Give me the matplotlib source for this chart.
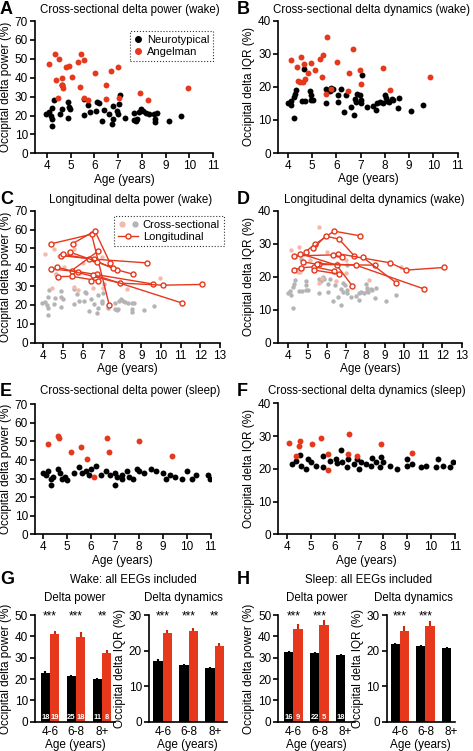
import numpy as np
import matplotlib.pyplot as plt
from matplotlib.lines import Line2D
from matplotlib.legend_handler import HandlerTuple

plt.rcParams['font.family'] = ['Liberation Sans', 'DejaVu Sans']
plt.rcParams['font.size'] = 8

RED = '#e5381d'
PINK = '#f5b8ab'
GREY = '#b4b4b4'

# ---- A: cross-sectional delta power (wake)
a_nt_age = [3.96, 4.10, 4.22, 4.28, 4.18, 4.22, 4.22, 4.55, 4.62, 4.65, 4.88, 4.92, 4.99,
            4.90, 5.55, 5.74, 5.83, 6.08, 6.13, 6.20, 6.33, 6.42, 6.60, 6.75, 6.80, 6.77,
            6.97, 7.00, 7.03, 7.08, 7.28, 7.67, 7.67, 7.76, 7.81, 7.88, 7.97, 8.06, 8.18,
            8.32, 8.51, 8.64, 8.54, 8.54, 9.13, 9.65, 5.56]
a_nt_val = [20.9, 21.6, 24.1, 28.0, 20.0, 18.3, 14.6, 20.6, 23.6, 36.2, 27.4, 24.3, 23.4,
            18.8, 20.4, 25.7, 22.1, 22.3, 27.1, 26.5, 16.9, 23.0, 20.7, 15.6, 18.3, 25.2,
            22.2, 21.0, 26.3, 31.0, 18.5, 17.8, 21.3, 17.2, 18.1, 22.1, 23.2, 22.3, 21.4,
            20.9, 20.9, 21.3, 17.9, 16.5, 17.2, 19.5, 28.5]
a_as_age = [4.11, 4.35, 4.38, 4.45, 4.53, 4.63, 4.63, 4.69, 4.80, 4.94, 5.08, 5.33, 5.39,
            5.45, 5.58, 5.56, 5.75, 6.02, 6.51, 6.51, 6.70, 6.99, 7.05, 7.93, 8.26, 9.96]
a_as_val = [47.1, 52.4, 38.8, 29.0, 49.7, 39.7, 36.0, 34.8, 45.9, 46.4, 40.4, 48.2, 35.1,
            52.5, 49.6, 29.3, 28.1, 42.4, 36.2, 28.8, 43.4, 45.5, 29.0, 32.0, 28.3, 34.4]

# ---- B: cross-sectional delta dynamics (wake)
b_nt_age = [4.00, 4.11, 4.23, 4.14, 4.25, 4.34, 4.28, 4.66, 4.58, 4.69, 4.91, 4.94, 4.94,
            5.03, 5.58, 5.58, 5.72, 5.79, 5.86, 6.07, 6.07, 6.18, 6.31, 6.41, 6.59, 6.73,
            6.75, 6.82, 6.86, 6.96, 7.03, 7.03, 7.07, 7.24, 7.51, 7.65, 7.69, 7.79, 7.93,
            8.02, 8.06, 8.10, 8.16, 8.27, 8.34, 8.52, 8.57, 9.07, 9.58]
b_nt_val = [15.0, 15.7, 17.0, 14.5, 10.5, 19.1, 17.9, 25.4, 15.7, 15.7, 18.8, 17.5, 16.0,
            16.0, 15.0, 19.4, 18.8, 19.8, 19.4, 17.7, 15.3, 19.4, 12.5, 17.5, 14.0, 11.5,
            16.3, 15.3, 18.0, 17.5, 16.0, 15.0, 23.6, 14.0, 14.3, 13.0, 15.0, 15.3, 15.0,
            17.7, 16.7, 15.7, 15.3, 16.3, 16.0, 13.5, 16.5, 12.7, 14.5]
b_as_age = [4.14, 4.37, 4.41, 4.55, 4.48, 4.62, 4.66, 4.69, 4.83, 4.96, 5.10, 5.34, 5.40,
            5.46, 5.60, 5.58, 5.76, 6.01, 6.52, 6.49, 6.69, 6.98, 7.02, 7.90, 8.21, 9.87]
b_as_val = [28.1, 25.9, 21.9, 28.9, 21.5, 21.5, 26.9, 22.3, 24.3, 27.3, 25.1, 28.3, 22.9,
            29.5, 35.2, 18.0, 19.5, 27.6, 24.1, 18.8, 31.3, 25.0, 21.0, 25.6, 19.1, 22.9]

# ---- C: longitudinal delta power (wake), one list per child
c_long_age = [[4.42, 6.46, 7.36], [5.49, 6.63, 7.40], [4.88, 6.60, 9.30],
              [5.02, 6.34, 7.77, 8.55], [5.36, 6.75, 7.57], [5.44, 6.80],
              [4.42, 5.78, 9.60], [4.71, 7.90, 10.11, 12.06], [4.76, 5.44, 6.77],
              [6.41, 6.72], [6.55, 11.05]]
c_long_val = [[52.5, 57.5, 20.0], [52.5, 59.3, 42.3], [46.2, 44.3, 42.3],
              [46.8, 44.5, 38.6, 36.4], [48.0, 43.0, 39.5], [38.2, 48.6],
              [39.1, 37.7, 31.1], [40.0, 31.6, 30.5, 30.9], [35.0, 35.2, 32.9],
              [32.9, 36.4], [36.1, 21.1]]

# ---- D: longitudinal delta dynamics (wake)
d_long_age = [[4.90, 5.38, 6.37, 7.72], [5.30, 5.94, 6.63, 7.41], [6.56, 9.28, 10.11, 12.10],
              [4.31, 6.30, 6.77], [4.61, 6.51, 7.32], [4.74, 5.59, 8.50],
              [4.31, 4.64, 5.35, 6.39], [5.35, 6.63], [7.86, 9.59], [5.50, 7.51, 11.04]]
d_long_val = [[27.6, 29.8, 33.8, 32.4], [28.6, 32.3, 31.4, 26.4], [27.0, 24.2, 22.0, 22.8],
              [26.3, 26.6, 26.0], [27.0, 23.5, 17.2], [24.5, 23.7, 23.5],
              [22.0, 22.7, 23.0, 21.7], [22.0, 20.8], [25.9, 18.2], [24.0, 23.5, 16.3]]

# ---- E: cross-sectional delta power (sleep)
e_nt_age = [4.0, 4.1, 4.2, 4.31, 4.3, 4.4, 4.6, 4.7, 4.8, 4.9, 5.0, 5.3, 5.5, 5.6, 5.8, 5.9,
            6.0, 6.2, 6.4, 6.6, 6.8, 6.99, 7.0, 7.1, 7.28, 7.3, 7.5, 7.6, 7.74, 7.9, 8.0,
            8.2, 8.5, 8.7, 9.0, 9.13, 9.3, 9.5, 9.79, 10.0, 10.21, 10.4, 10.98, 10.9]
e_nt_val = [33, 32, 34, 26.5, 30, 31, 35, 33, 30, 31, 29.5, 33, 36, 33, 34, 32,
            35, 37, 32, 34, 32, 26.8, 33, 31, 30, 32, 34, 31, 30, 35, 34,
            33, 35, 34, 33, 30, 32, 31, 30, 34, 30, 32, 30, 32]
e_as_age = [4.21, 4.63, 4.67, 5.16, 5.56, 5.82, 6.10, 6.65, 6.74, 8.02, 9.37]
e_as_val = [48.6, 53.1, 52.0, 44.5, 47.2, 40.5, 31.0, 52.0, 44.5, 50.1, 42.2]

# ---- F: cross-sectional delta dynamics (sleep)
f_nt_age = [4.57, 4.87, 5.52, 6.04, 6.26, 6.56, 6.91, 7.53, 7.92, 8.99, 10.31,
            4.2, 4.4, 4.6, 4.8, 5.0, 5.2, 5.5, 5.8, 6.1, 6.3, 6.5, 6.8, 7.0, 7.1, 7.3,
            7.5, 7.7, 7.9, 8.0, 8.3, 8.6, 9.0, 9.2, 9.6, 9.8, 10.2, 10.5, 10.8, 10.9]
f_nt_val = [24.2, 22.9, 23.9, 22.9, 25.8, 22.9, 22.9, 23.2, 23.7, 22.9, 22.9,
            21.5, 22.5, 21.0, 20.0, 22.0, 21.0, 20.5, 22.5, 21.8, 22.0, 20.5, 21.5, 20.0,
            22.0, 21.5, 21.0, 22.0, 20.5, 22.0, 21.0, 20.0, 21.0, 21.5, 20.5, 21.0, 20.5,
            21.0, 20.5, 22.0]
f_as_age = [4.10, 4.37, 4.55, 4.52, 5.04, 5.43, 5.70, 6.53, 6.60, 6.94, 7.91, 9.23, 5.70]
f_as_val = [28.0, 23.9, 28.5, 27.1, 27.6, 29.4, 24.5, 24.6, 30.6, 24.0, 27.6, 24.8, 19.6]

# ---- G / H: group means
groups = ['4-6', '6-8', '8+']
g_pow_nt = [23.0, 21.5, 20.0]; g_pow_nt_err = [0.6, 0.5, 0.7]
g_pow_as = [41.0, 39.8, 32.2]; g_pow_as_err = [1.6, 2.0, 1.5]
g_iqr_nt = [17.0, 16.0, 15.2]; g_iqr_nt_err = [0.6, 0.3, 0.3]
g_iqr_as = [25.0, 25.6, 21.2]; g_iqr_as_err = [0.7, 0.8, 0.8]
g_n_nt = ['18', '25', '11']; g_n_as = ['19', '18', '8']
g_stars = ['***', '***', '**']
h_pow_nt = [32.7, 32.3, 31.2]; h_pow_nt_err = [0.5, 0.4, 0.3]
h_pow_as = [43.3, 45.2]; h_pow_as_err = [2.3, 2.3]
h_iqr_nt = [21.8, 21.2, 20.8]; h_iqr_nt_err = [0.4, 0.4, 0.3]
h_iqr_as = [25.5, 27.0]; h_iqr_as_err = [1.3, 1.3]
h_n_nt = ['16', '22', '18']; h_n_as = ['9', '5']
h_stars = ['***', '***']

W, H = 473, 751
fig = plt.figure(figsize=(W / 100, H / 100), dpi=100)


def add_ax(l, t, r, b):
    ax = fig.add_axes([l / W, 1 - b / H, (r - l) / W, (b - t) / H])
    ax.spines[['top', 'right']].set_visible(False)
    ax.spines[['left', 'bottom']].set_linewidth(1.2)
    ax.tick_params(width=1.2, length=3.5, labelsize=8.5, pad=1.5)
    return ax


def ftext(x, y, s, **kw):
    fig.text(x / W, 1 - y / H, s, va='center', **kw)


def scatter_panel(ax, xlim, ylim, nt, asx, dot=18):
    ax.scatter(nt[0], nt[1], s=dot, color='black', lw=0, zorder=3)
    ax.scatter(asx[0], asx[1], s=dot, color=RED, lw=0, zorder=3)
    ax.set_xlim(*xlim)
    ax.set_ylim(*ylim)
    ax.set_xlabel('Age (years)', fontsize=8.5, labelpad=1)


# A
axA = add_ax(35, 21, 213, 153.3)
scatter_panel(axA, (3.5, 11), (0, 70), (a_nt_age, a_nt_val), (a_as_age, a_as_val))
axA.set_xticks(range(4, 12))
axA.set_yticks(range(0, 71, 10))
axA.set_ylabel('Occipital delta power (%)', fontsize=8.5, labelpad=2)
leg = axA.legend([Line2D([], [], marker='o', ls='', color='black', ms=4),
                  Line2D([], [], marker='o', ls='', color=RED, ms=4)],
                 ['Neurotypical', 'Angelman'], loc='upper right',
                 bbox_to_anchor=(1.0, 0.927), borderaxespad=0, fontsize=8,
                 handlelength=0.8, handletextpad=0.4, borderpad=0.35,
                 labelspacing=0.2, fancybox=False, edgecolor='black')
leg.get_frame().set_linestyle(':')
leg.get_frame().set_linewidth(0.8)

# B
axB = add_ax(278.3, 20.7, 457.7, 153.1)
scatter_panel(axB, (3.6, 11), (0, 40), (b_nt_age, b_nt_val), (b_as_age, b_as_val))
axB.set_xticks(range(4, 12))
axB.set_yticks(range(0, 41, 10))
axB.set_ylabel('Occipital delta IQR (%)', fontsize=8.5, labelpad=2)


def long_panel(ax, nt, asx, ages, vals):
    ax.scatter(nt[0], nt[1], s=10, color=GREY, lw=0, zorder=2)
    ax.scatter(asx[0], asx[1], s=10, color=PINK, lw=0, zorder=2)
    for xa, ya in zip(ages, vals):
        ax.plot(xa, ya, color=RED, lw=1.0, marker='o', ms=3.6, mfc='white',
                mec=RED, mew=1.0, zorder=3)
    ax.set_xticks(range(4, 14))
    ax.set_xlabel('Age (years)', fontsize=8.5, labelpad=1)


# C
axC = add_ax(35, 210.7, 220, 342.7)
long_panel(axC, (a_nt_age, a_nt_val), (a_as_age, a_as_val), c_long_age, c_long_val)
axC.set_xlim(3.58, 13)
axC.set_ylim(0, 70)
axC.set_yticks(range(0, 71, 10))
axC.set_ylabel('Occipital delta power (%)', fontsize=8.5, labelpad=2)
legC = axC.legend([(Line2D([], [], marker='o', ls='', color=PINK, ms=3.5),
                    Line2D([], [], marker='o', ls='', color=GREY, ms=3.5)),
                   Line2D([], [], color=RED, lw=1, marker='o', ms=3.6, mfc='white')],
                  ['Cross-sectional', 'Longitudinal'], loc='upper right',
                  bbox_to_anchor=(1.02, 0.96), borderaxespad=0, fontsize=8,
                  handlelength=1.8, handletextpad=0.4, borderpad=0.35,
                  labelspacing=0.2, fancybox=False, edgecolor='black',
                  handler_map={tuple: HandlerTuple(ndivide=None, pad=0.6)})
legC.get_frame().set_linestyle(':')
legC.get_frame().set_linewidth(0.8)

# D
axD = add_ax(278.3, 210.7, 461.7, 342.7)
long_panel(axD, (b_nt_age, b_nt_val), (b_as_age, b_as_val), d_long_age, d_long_val)
axD.set_xlim(3.48, 13)
axD.set_ylim(0, 40)
axD.set_yticks(range(0, 41, 10))
axD.set_ylabel('Occipital delta IQR (%)', fontsize=8.5, labelpad=2)

# E
axE = add_ax(35, 404.3, 210.7, 534.3)
scatter_panel(axE, (3.65, 11), (0, 70), (e_nt_age, e_nt_val), (e_as_age, e_as_val))
axE.set_xticks(range(4, 12))
axE.set_yticks(range(0, 71, 10))
axE.set_ylabel('Occipital delta power (%)', fontsize=8.5, labelpad=2)

# F
axF = add_ax(278.3, 403.3, 455, 534.3)
scatter_panel(axF, (3.65, 11), (0, 40), (f_nt_age, f_nt_val), (f_as_age, f_as_val))
axF.set_xticks(range(4, 12))
axF.set_yticks(range(0, 41, 10))
axF.set_ylabel('Occipital delta IQR (%)', fontsize=8.5, labelpad=2)


def bar_panel(ax, nt, nt_err, asv, as_err, n_nt, n_as, stars, ymax, xlim, ylabel):
    x = np.arange(len(groups))
    xa = np.arange(len(asv))
    ax.bar(x - 0.18, nt, width=0.36, color='black', zorder=2)
    ax.errorbar(x - 0.18, nt, yerr=[np.zeros(len(nt)), nt_err], fmt='none',
                ecolor='black', elinewidth=1.5, capsize=0, zorder=1)
    ax.bar(xa + 0.18, asv, width=0.36, color=RED, zorder=2)
    ax.errorbar(xa + 0.18, asv, yerr=[np.zeros(len(asv)), as_err], fmt='none',
                ecolor='#c8280f', elinewidth=1.5, capsize=0, zorder=1)
    for xi, s in zip(x, n_nt):
        ax.text(xi - 0.18, ymax * 0.01, s, color='white', ha='center', va='bottom',
                fontsize=5.5, fontweight='bold', zorder=4)
    for xi, s in zip(xa, n_as):
        ax.text(xi + 0.18, ymax * 0.01, s, color='white', ha='center', va='bottom',
                fontsize=5.5, fontweight='bold', zorder=4)
    for xi, s in zip(x, stars):
        ax.text(xi, ymax * 0.985, s, ha='center', va='center', fontsize=8.5)
    ax.set_xlim(*xlim)
    ax.set_ylim(0, ymax)
    ax.set_yticks(range(0, ymax + 1, 10))
    ax.set_xticks(x)
    ax.set_xticklabels(groups)
    ax.tick_params(axis='x', length=0, pad=3)
    ax.set_xlabel('Age (years)', fontsize=8.5, labelpad=1)
    ax.set_ylabel(ylabel, fontsize=8.5, labelpad=2)


axG1 = add_ax(35, 615, 115, 721.7)
bar_panel(axG1, g_pow_nt, g_pow_nt_err, g_pow_as, g_pow_as_err, g_n_nt, g_n_as,
          g_stars, 50, (-0.58, 2.5), 'Occipital delta power (%)')
axG2 = add_ax(149, 615, 226.7, 721.7)
bar_panel(axG2, g_iqr_nt, g_iqr_nt_err, g_iqr_as, g_iqr_as_err, [], [],
          g_stars, 30, (-0.53, 2.46), 'Occipital delta IQR (%)')
axH1 = add_ax(278.3, 615, 355, 721.7)
bar_panel(axH1, h_pow_nt, h_pow_nt_err, h_pow_as, h_pow_as_err, h_n_nt, h_n_as,
          h_stars, 50, (-0.58, 2.37), 'Occipital delta power (%)')
axH2 = add_ax(386.7, 615, 455, 721.7)
bar_panel(axH2, h_iqr_nt, h_iqr_nt_err, h_iqr_as, h_iqr_as_err, [], [],
          h_stars, 30, (-0.51, 2.15), 'Occipital delta IQR (%)')

# titles and panel letters
tkw = dict(ha='center', fontsize=8.3)
ftext(130, 9.5, 'Cross-sectional delta power (wake)', **tkw)
ftext(371, 9.5, 'Cross-sectional delta dynamics (wake)', **tkw)
ftext(131, 200, 'Longitudinal delta power (wake)', **tkw)
ftext(374, 200, 'Longitudinal delta dynamics (wake)', **tkw)
ftext(130, 391, 'Cross-sectional delta power (sleep)', **tkw)
ftext(367, 391, 'Cross-sectional delta dynamics (sleep)', **tkw)
ftext(133, 580, 'Wake: all EEGs included', **tkw)
ftext(75, 598, 'Delta power', **tkw)
ftext(183, 598, 'Delta dynamics', **tkw)
ftext(369, 580, 'Sleep: all EEGs included', **tkw)
ftext(317, 598, 'Delta power', **tkw)
ftext(413, 598, 'Delta dynamics', **tkw)
lkw = dict(ha='left', fontsize=13, fontweight='bold')
for lab, x, y in [('A', 0, 10), ('B', 237, 10), ('C', 0, 200), ('D', 237, 200),
                  ('E', 0, 391), ('F', 237, 391), ('G', 0, 580), ('H', 237, 580)]:
    ftext(x, y, lab, **lkw)

fig.savefig('out.png', dpi=100)
